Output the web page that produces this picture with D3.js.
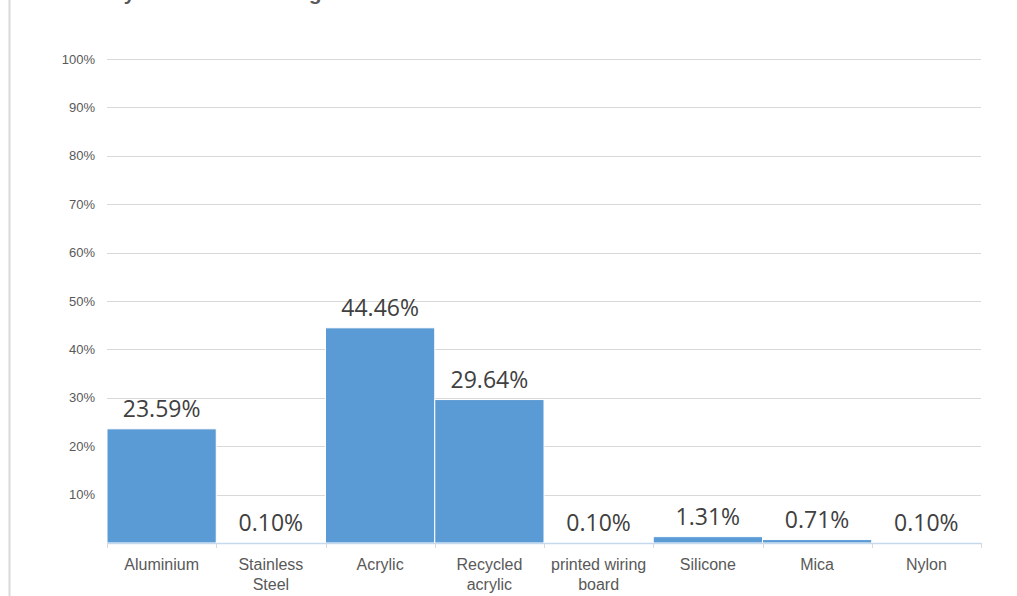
<html>
<head>
<script src="https://cdnjs.cloudflare.com/ajax/libs/d3/7.8.5/d3.min.js"></script>
<style>
  body { margin: 0; background: #fff; }
  svg { display: block; }
</style>
</head>
<body>
<svg width="1017" height="596"></svg>
<script>
  // chart data
  let materials = ["Aluminium", "Stainless Steel", "Acrylic", "Recycled acrylic",
                   "printed wiring board", "Silicone", "Mica", "Nylon"];
  let shares = [23.59, 0.10, 44.46, 29.64, 0.10, 1.31, 0.71, 0.10];
  let yTicks = [10, 20, 30, 40, 50, 60, 70, 80, 90, 100];
  // label line breaks as in the picture
  let labelLines = [["Aluminium"], ["Stainless", "Steel"], ["Acrylic"], ["Recycled", "acrylic"],
                    ["printed wiring", "board"], ["Silicone"], ["Mica"], ["Nylon"]];

  var svg = d3.select("svg");
  var plotLeft = 107, plotRight = 981, plotTop = 59, plotBottom = 543;

  // frame line on the left
  svg.append("line")
      .attr("x1", 9.5).attr("x2", 9.5)
      .attr("y1", 0).attr("y2", 596)
      .style("stroke", "#d9d9d9").style("stroke-width", 2);

  // title, mostly scrolled off the top
  svg.append("text")
      .attr("x", 28).attr("y", -0.5)
      .style("font-family", "Arial, 'Liberation Sans', sans-serif")
      .style("font-size", "20.5px").style("font-weight", "bold")
      .style("fill", "#595959")
      .text("Material by total Product Weight");

  var x = d3.scaleBand().domain(materials).range([plotLeft, plotRight]).padding(0);
  var y = d3.scaleLinear().domain([0, 100]).range([plotBottom, plotTop]);

  // gridlines
  svg.append("g").selectAll("line")
      .data(yTicks).enter().append("line")
      .attr("x1", plotLeft).attr("x2", plotRight)
      .attr("y1", d => Math.round(y(d)) + 0.5)
      .attr("y2", d => Math.round(y(d)) + 0.5)
      .style("stroke", "#d9d9d9").style("stroke-width", 1);

  // y tick labels
  svg.append("g").selectAll("text")
      .data(yTicks).enter().append("text")
      .attr("x", 95)
      .attr("y", d => y(d) + 4.5)
      .attr("text-anchor", "end")
      .style("font-family", "Arial, 'Liberation Sans', sans-serif")
      .style("font-size", "13px")
      .style("fill", "#595959")
      .text(d => d + "%");

  // bars
  svg.append("g").selectAll("rect")
      .data(shares).enter().append("rect")
      .attr("x", (d, i) => x(materials[i]))
      .attr("width", x.bandwidth())
      .attr("y", d => y(d))
      .attr("height", d => plotBottom - y(d))
      .style("fill", "#5b9bd5")
      .style("stroke", "#fff").style("stroke-width", 1);

  // category axis
  svg.append("line")
      .attr("x1", plotLeft).attr("x2", plotRight)
      .attr("y1", plotBottom + 0.5).attr("y2", plotBottom + 0.5)
      .style("stroke", "#c5d9ee").style("stroke-width", 1.5);

  var ticks = materials.map(m => x(m)).concat([plotRight]);
  svg.append("g").selectAll("line")
      .data(ticks).enter().append("line")
      .attr("x1", d => Math.round(d) + 0.5).attr("x2", d => Math.round(d) + 0.5)
      .attr("y1", plotBottom).attr("y2", plotBottom + 5)
      .style("stroke", "#d9d9d9");

  var cat = svg.append("g").selectAll("text")
      .data(materials).enter().append("text")
      .attr("x", d => x(d) + x.bandwidth() / 2)
      .attr("y", 570)
      .attr("text-anchor", "middle")
      .style("font-family", "Arial, 'Liberation Sans', sans-serif")
      .style("font-size", "16px")
      .style("fill", "#595959");
  cat.each(function(d, i) {
    var t = d3.select(this);
    labelLines[i].forEach((ln, k) => {
      t.append("tspan")
        .attr("x", x(d) + x.bandwidth() / 2)
        .attr("dy", k === 0 ? 0 : 20)
        .text(ln);
    });
  });

  // value labels
  svg.append("g").selectAll("text")
      .data(shares).enter().append("text")
      .attr("x", (d, i) => x(materials[i]) + x.bandwidth() / 2)
      .attr("y", d => y(d) - 12)
      .attr("text-anchor", "middle")
      .style("font-family", "'Open Sans', 'Noto Sans', sans-serif")
      .style("font-size", "23px")
      .style("fill", "#404040")
      .text(d => d.toFixed(2) + "%");
</script>
</body>
</html>
